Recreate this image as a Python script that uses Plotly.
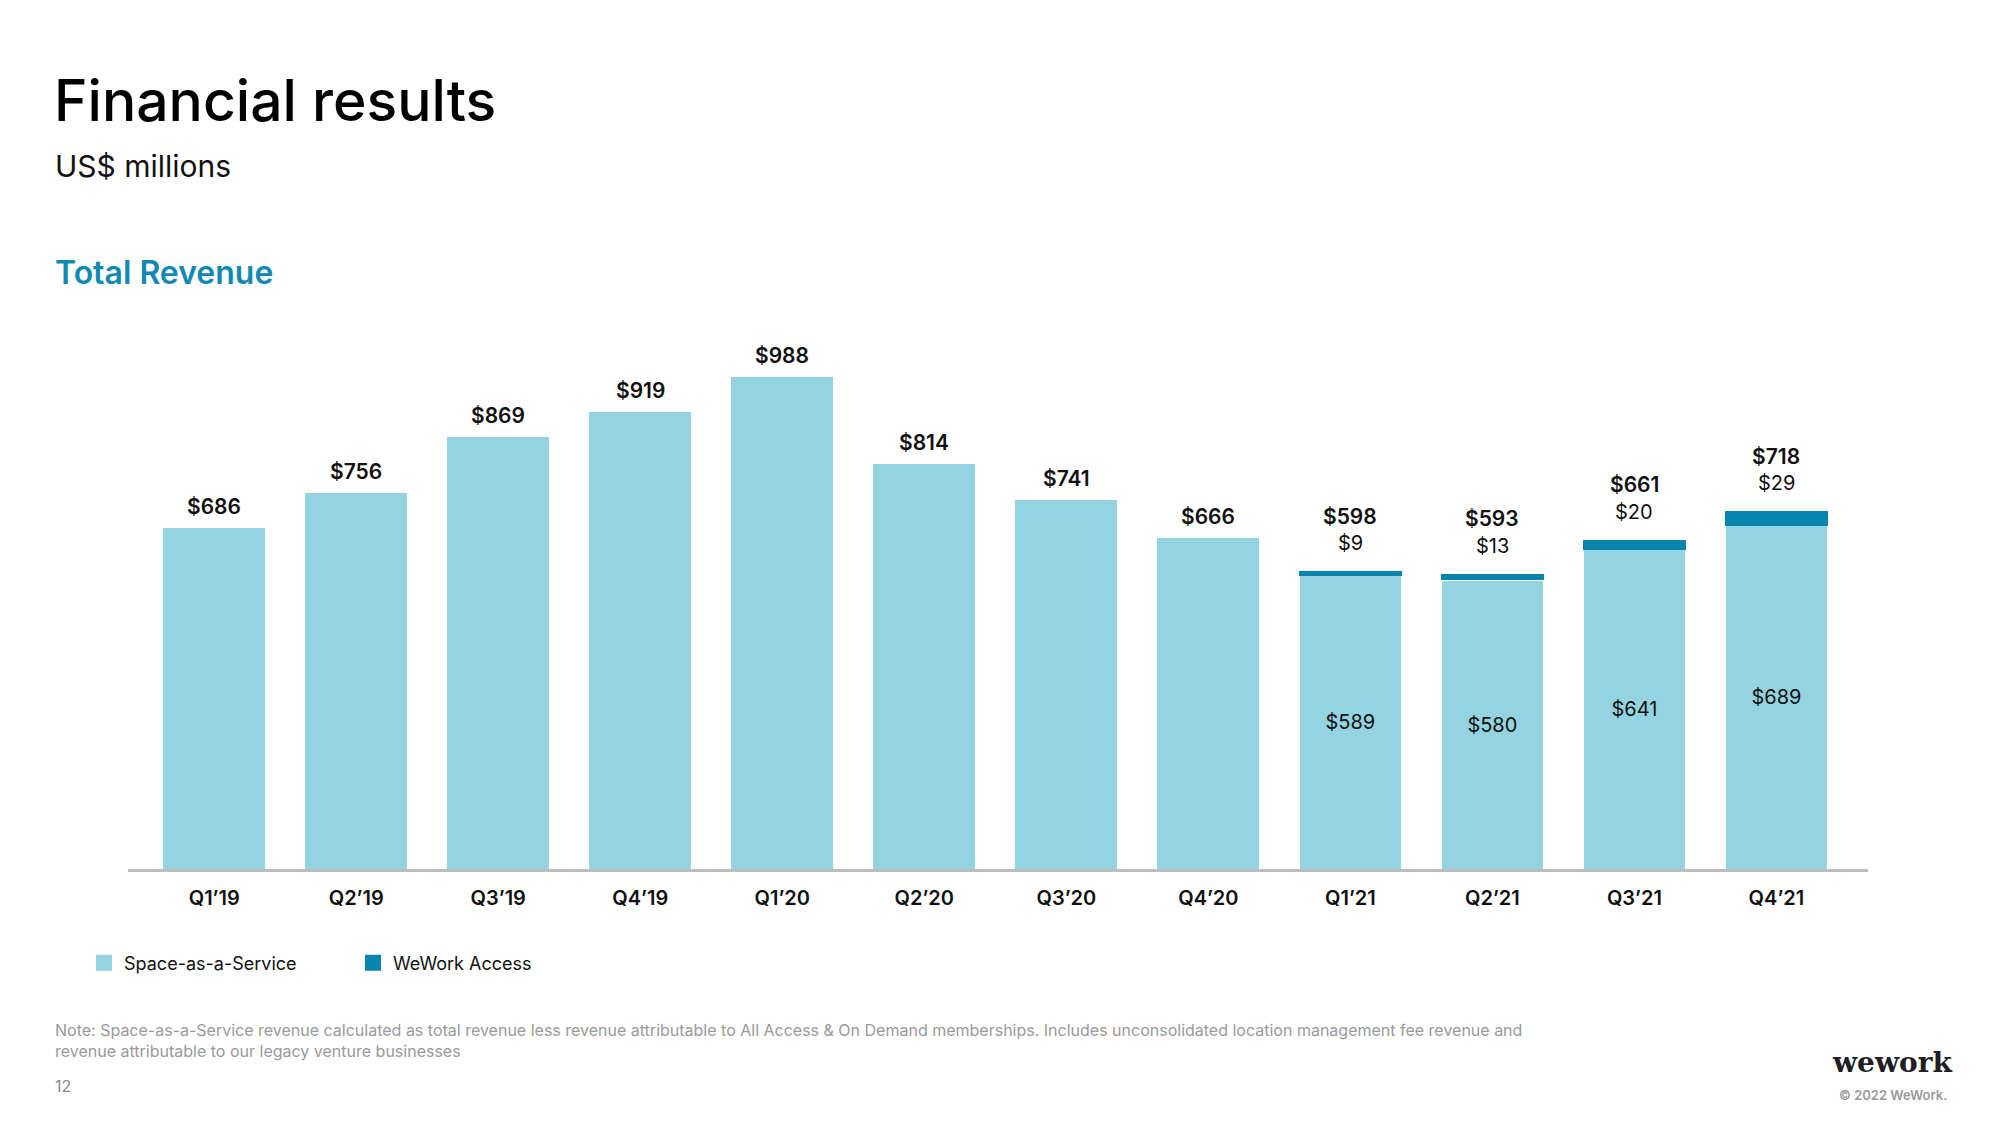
import plotly.graph_objects as go

# ---- data ----
quarters = ["Q1’19", "Q2’19", "Q3’19", "Q4’19", "Q1’20", "Q2’20",
            "Q3’20", "Q4’20", "Q1’21", "Q2’21", "Q3’21", "Q4’21"]
saas = [686, 756, 869, 919, 988, 814, 741, 666, 589, 580, 641, 689]
access = [None, None, None, None, None, None, None, None, 9, 13, 20, 29]
totals = [686, 756, 869, 919, 988, 814, 741, 666, 598, 593, 661, 718]
series_names = ["Space-as-a-Service", "WeWork Access"]

LIGHT = "#93D4E0"
DARK = "#0885AE"
FONT = "Inter"
W, H = 2000, 1125


def px(x):
    return x / W


def py(y):
    return 1 - y / H


saas_inside = [f"${v}" if a else "" for v, a in zip(saas, access)]

fig = go.Figure()
fig.add_trace(go.Bar(
    x=quarters, y=saas, name=series_names[0], marker_color=LIGHT,
    marker_line=dict(color="white", width=1),
    text=saas_inside, textposition="inside", insidetextanchor="middle",
    textangle=0, textfont=dict(family=FONT, size=20, color="#111111"),
    showlegend=False, hoverinfo="skip"))
fig.add_trace(go.Bar(
    x=quarters, y=access, name=series_names[1], marker_color=DARK,
    marker_line_width=0, showlegend=False, hoverinfo="skip"))

# legend proxies with square swatches
for nm, col in zip(series_names, [LIGHT, DARK]):
    fig.add_trace(go.Scatter(
        x=[None], y=[None], mode="markers", name=nm,
        marker=dict(symbol="square", size=20, color=col)))

annotations = []
for q, t, a in zip(quarters, totals, access):
    if a:
        annotations.append(dict(
            x=q, y=t, xref="x", yref="y", text=f"${t}", showarrow=False,
            yanchor="middle", yshift=55,
            font=dict(family=FONT, size=21, color="#111111", weight=600)))
        annotations.append(dict(
            x=q, y=t, xref="x", yref="y", text=f"${a}", showarrow=False,
            yanchor="middle", yshift=28,
            font=dict(family=FONT, size=20, color="#111111")))
    else:
        annotations.append(dict(
            x=q, y=t, xref="x", yref="y", text=f"${t}", showarrow=False,
            yanchor="middle", yshift=21,
            font=dict(family=FONT, size=21, color="#111111", weight=600)))

# page texts
annotations += [
    dict(x=px(52), y=py(101), xref="paper", yref="paper", text="Financial results",
         showarrow=False, xanchor="left", yanchor="middle",
         font=dict(family=FONT, size=57, color="#000000", weight=500)),
    dict(x=px(53), y=py(166), xref="paper", yref="paper", text="US$ millions",
         showarrow=False, xanchor="left", yanchor="middle",
         font=dict(family=FONT, size=30, color="#111111")),
    dict(x=px(53), y=py(272), xref="paper", yref="paper", text="Total Revenue",
         showarrow=False, xanchor="left", yanchor="middle",
         font=dict(family=FONT, size=32, color="#1288B4", weight=600)),
    dict(x=px(53), y=py(1030), xref="paper", yref="paper",
         text="Note: Space-as-a-Service revenue calculated as total revenue less revenue attributable to All Access &amp; On Demand memberships. Includes unconsolidated location management fee revenue and",
         showarrow=False, xanchor="left", yanchor="middle",
         font=dict(family=FONT, size=16, color="#9A9A9A")),
    dict(x=px(53), y=py(1051), xref="paper", yref="paper",
         text="revenue attributable to our legacy venture businesses",
         showarrow=False, xanchor="left", yanchor="middle",
         font=dict(family=FONT, size=16, color="#9A9A9A")),
    dict(x=px(53), y=py(1086), xref="paper", yref="paper", text="12",
         showarrow=False, xanchor="left", yanchor="middle",
         font=dict(family=FONT, size=16, color="#888888")),
    dict(x=px(1892), y=py(1062), xref="paper", yref="paper", text="wework",
         showarrow=False, xanchor="center", yanchor="middle",
         font=dict(family="DejaVu Serif", size=28, color="#1E1E24", weight=700)),
    dict(x=px(1893), y=py(1095), xref="paper", yref="paper", text="© 2022 WeWork.",
         showarrow=False, xanchor="center", yanchor="middle",
         font=dict(family=FONT, size=13, color="#9A9A9A", weight=600)),
]

fig.update_layout(
    width=W, height=H, barmode="stack", bargap=0.277,
    paper_bgcolor="white", plot_bgcolor="white",
    margin=dict(l=0, r=0, t=0, b=0),
    annotations=annotations,
    showlegend=True,
    legend=dict(orientation="h", x=px(84), y=py(963), xanchor="left",
                yanchor="middle", entrywidth=224, entrywidthmode="pixels",
                traceorder="normal",
                font=dict(family=FONT, size=18, color="#111111"),
                bgcolor="rgba(0,0,0,0)"),
    xaxis=dict(domain=[px(128), px(1868)], range=[-0.607, 11.645],
               showline=True, linecolor="#BDBDBD", linewidth=2.5,
               showgrid=False, zeroline=False, ticks="",
               tickfont=dict(family=FONT, size=20, color="#111111", weight=600),
               ticklabelstandoff=9),
    yaxis=dict(domain=[py(869), py(321.2)], range=[0, 1100], visible=False,
               showgrid=False, zeroline=False),
    font=dict(family=FONT),
)

fig.write_html("out.html", config={"displayModeBar": False},
               post_script="document.body.style.margin='0';document.body.style.padding='0';")
